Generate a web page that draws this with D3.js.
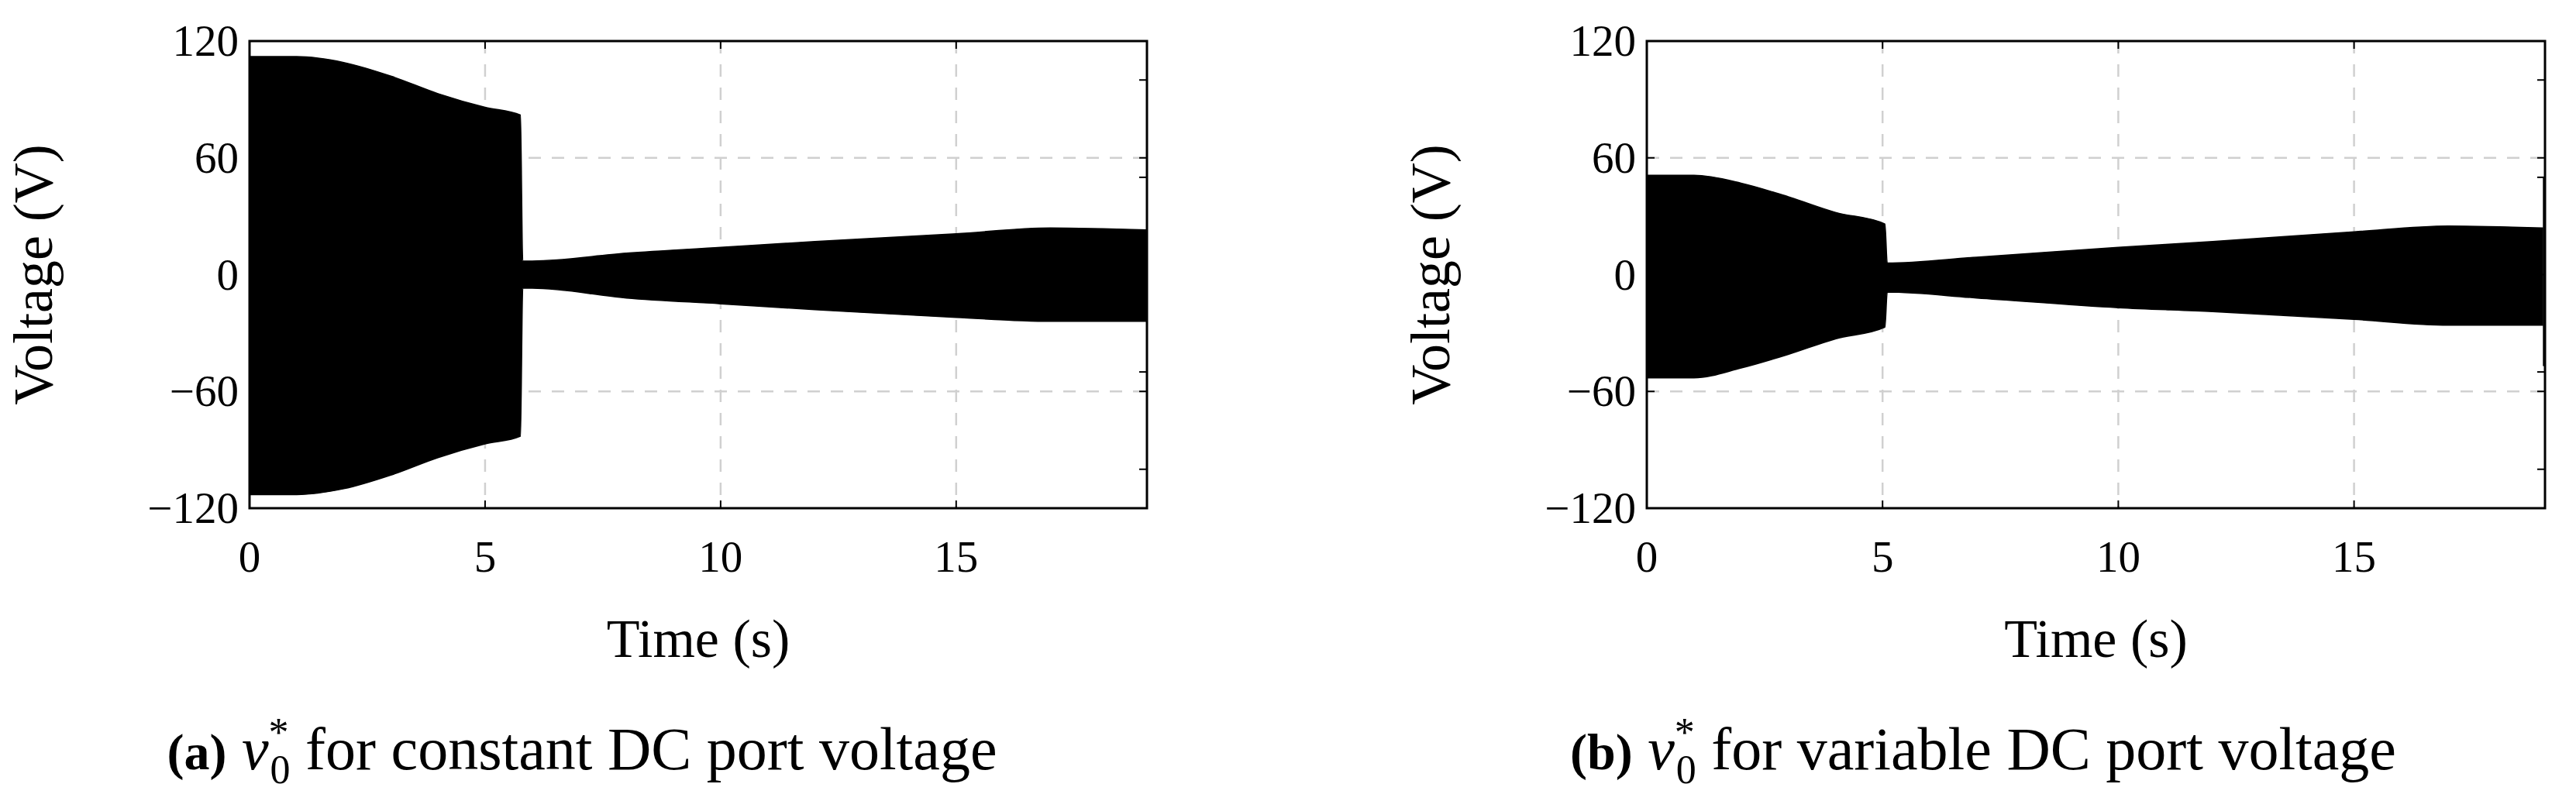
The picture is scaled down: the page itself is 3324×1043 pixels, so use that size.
<!DOCTYPE html>
<html><head><meta charset="utf-8">
<script src="https://cdn.jsdelivr.net/npm/d3@7"></script>
<style>body{margin:0;background:#fff}text{font-family:"Liberation Serif","DejaVu Serif",serif}</style>
</head><body><svg id="c" width="3324" height="1043"></svg>
<script>
// envelope data: [time, upper, lower]
var envA = [[0,112,-113],[1,112,-113],[2,109,-110],[3,102,-103],[4,93,-94],[5,86,-87],[5.75,82,-83],
            [5.8,7,-7],[6,7,-7],[8,11,-12],[10,14,-15],[12,17,-18],[15,21,-22],[17,24,-24],[19.05,23,-24]];
var envB = [[0,51,-53],[1,51,-53],[2,47,-48],[3,40,-41],[4,32,-33],[5.05,26,-27],
            [5.1,6,-9],[7,9,-12],[10,14,-17],[12,17,-19],[15,22,-23],[17,25,-26],[19.0,24,-26]];
var spikeB = [[19.03,50],[19.03,-47]];
var xTicks = [0,5,10,15];
var yTicks = [-120,-60,0,60,120];
var sideTicks = [-100,-50,50,100];
var panels = [
  {left:322, right:1480, env:envA, spike:null, cap:["(a)","for constant DC port voltage"], capX:751},
  {left:2125, right:3284, env:envB, spike:spikeB, cap:["(b)","for variable DC port voltage"], capX:2559}
];
var plotTop = 53, plotBottom = 656;
var svg = d3.select("#c");

panels.forEach(function(p){
  var x = d3.scaleLinear().domain([0,19.05]).range([p.left,p.right]);
  var y = d3.scaleLinear().domain([-120,120]).range([plotBottom,plotTop]);
  var g = svg.append("g");

  // dashed grid
  [5,10,15].forEach(function(t){
    g.append("line").attr("x1",x(t)).attr("x2",x(t)).attr("y1",plotTop).attr("y2",plotBottom)
      .attr("stroke","#d0d0d0").attr("stroke-width",2.5).attr("stroke-dasharray","16,14");
  });
  [-60,60].forEach(function(v){
    g.append("line").attr("x1",p.left).attr("x2",p.right).attr("y1",y(v)).attr("y2",y(v))
      .attr("stroke","#d0d0d0").attr("stroke-width",2.5).attr("stroke-dasharray","16,14");
  });

  // signal envelope
  var area = d3.area().curve(d3.curveMonotoneX).x(function(d){return x(d[0]);})
    .y0(function(d){return y(d[2]);}).y1(function(d){return y(d[1]);});
  g.append("path").datum(p.env).attr("d",area).attr("fill","#000").attr("stroke","#000").attr("stroke-width",1.5);
  if (p.spike) {
    g.append("line").attr("x1",x(p.spike[0][0])).attr("x2",x(p.spike[1][0]))
      .attr("y1",y(p.spike[0][1])).attr("y2",y(p.spike[1][1])).attr("stroke","#000").attr("stroke-width",3);
  }

  // frame and ticks
  g.append("rect").attr("x",p.left).attr("y",plotTop).attr("width",p.right-p.left).attr("height",plotBottom-plotTop)
    .attr("fill","none").attr("stroke","#000").attr("stroke-width",3);
  yTicks.forEach(function(v){
    g.append("line").attr("x1",p.left).attr("x2",p.left+10).attr("y1",y(v)).attr("y2",y(v)).attr("stroke","#000").attr("stroke-width",2);
    g.append("line").attr("x1",p.right-10).attr("x2",p.right).attr("y1",y(v)).attr("y2",y(v)).attr("stroke","#000").attr("stroke-width",2);
    g.append("text").attr("x",p.left-14).attr("y",y(v)+19).attr("text-anchor","end").attr("font-size",57)
      .text(v<0 ? "\u2212"+(-v) : v);
  });
  sideTicks.forEach(function(v){
    g.append("line").attr("x1",p.right-10).attr("x2",p.right).attr("y1",y(v)).attr("y2",y(v)).attr("stroke","#000").attr("stroke-width",2);
  });
  xTicks.forEach(function(t){
    g.append("line").attr("x1",x(t)).attr("x2",x(t)).attr("y1",plotBottom-10).attr("y2",plotBottom).attr("stroke","#000").attr("stroke-width",2);
    g.append("line").attr("x1",x(t)).attr("x2",x(t)).attr("y1",plotTop).attr("y2",plotTop+10).attr("stroke","#000").attr("stroke-width",2);
    g.append("text").attr("x",x(t)).attr("y",738).attr("text-anchor","middle").attr("font-size",57).text(t);
  });

  // labels
  g.append("text").attr("x",(p.left+p.right)/2).attr("y",848).attr("text-anchor","middle").attr("font-size",70).text("Time (s)");
  g.append("text").attr("transform","translate("+(p.left-255)+","+((plotTop+plotBottom)/2)+") rotate(-90)")
    .attr("text-anchor","middle").attr("font-size",72).text("Voltage (V)");
  var cap = g.append("text").attr("x",p.capX).attr("y",993).attr("text-anchor","middle").attr("font-size",78);
  cap.append("tspan").attr("font-weight","bold").attr("font-size",66).text(p.cap[0]);
  cap.append("tspan").text(" ");
  cap.append("tspan").attr("font-style","italic").text("v");
  cap.append("tspan").attr("font-size",52).attr("dy",-30).text("*");
  cap.append("tspan").attr("font-size",52).attr("dx",-24).attr("dy",48).text("0");
  cap.append("tspan").attr("dy",-18).text(" " + p.cap[1]);
});
</script></body></html>
